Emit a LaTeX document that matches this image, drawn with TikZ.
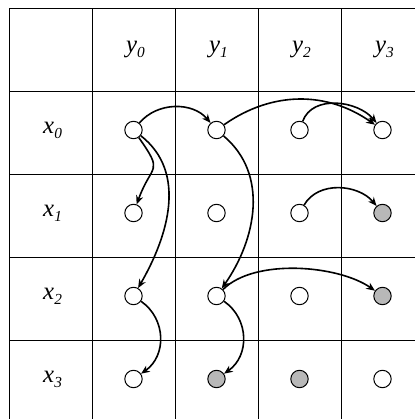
\documentclass[tikz,border=0pt]{standalone}
\usepackage{fontspec}
\setmainfont{Liberation Serif}
\usepackage{tikz}
\usetikzlibrary{arrows.meta}

\newcommand{\idx}[1]{\raisebox{-0.45ex}{\fontsize{10.5}{12}\selectfont\itshape #1}}

\begin{document}
\begin{tikzpicture}[
		font=\fontsize{17}{20}\selectfont\itshape,
		>=Stealth,
		gridline/.style={draw=black, line width=0.6pt},
		dot/.style={
			circle, draw=black, fill=white,
			line width=0.7pt, minimum size=0.42cm, inner sep=0pt
		},
		shaded/.style={dot, fill=black!28},
		hdr/.style={inner sep=1pt},
		arr/.style={-{Stealth[length=6pt,width=5pt]}, line width=1.1pt}
		]
		\useasboundingbox (-0.217,0.193) rectangle (9.783,-9.904);
		\clip (-0.217,0.193) rectangle (9.783,-9.904);
		\draw[gridline, step=2] (0,0) grid (10,-10);
		
		% headers
		\foreach \j in {0,...,3}
		\node[hdr] (y\j) at ({2*\j+3.05},-1) {y\idx{\j}};
		\foreach \i in {0,...,3}
		\node[hdr] (x\i) at (1.05,{-2*\i-2.95}) {x\idx{\i}};
		
		% cells
		\foreach \i/\j/\s in {0/0/dot, 0/1/dot, 0/2/dot, 0/3/dot,
			1/0/dot, 1/1/dot, 1/2/dot, 1/3/shaded,
			2/0/dot, 2/1/dot, 2/2/dot, 2/3/shaded,
			3/0/dot, 3/1/shaded, 3/2/shaded, 3/3/dot}
		\node[\s] (n\i\j) at ({2*\j+3},{-2*\i-2.94}) {};
		
		\draw[arr] (n00) to[out=50,in=130] (n01);
		\draw[arr] (n01) to[out=35,in=145] (n03);
		\draw[arr] (n02) to[out=70,in=130] (n03);
		\draw[arr] (n12) to[out=60,in=130] (n13);
		\draw[arr] (n21) to[out=45,in=145,looseness=0.75] (n23);
		
		\draw[arr] (n00) to[out=-55,in=70,looseness=1.7] (n10);
		\draw[arr] (n00) to[out=-38,in=60] (n20);
		\draw[arr] (n20) to[out=-35,in=35,looseness=1.1] (n30);
		\draw[arr] (n01) to[out=-40,in=55] (n21);
		\draw[arr] (n21) to[out=-35,in=35,looseness=1.1] (n31);
\end{tikzpicture}
\end{document}
